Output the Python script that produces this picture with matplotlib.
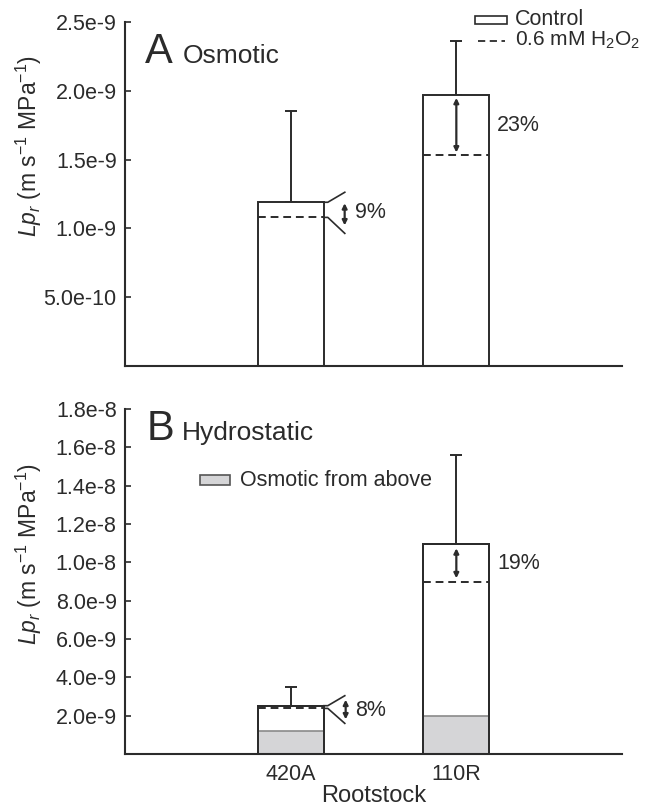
import numpy as np
import matplotlib
matplotlib.use("Agg")
import matplotlib.pyplot as plt
from matplotlib.patches import Rectangle
from matplotlib.lines import Line2D

plt.rcParams["font.family"] = ["Liberation Sans", "DejaVu Sans"]
plt.rcParams["mathtext.fontset"] = "custom"
plt.rcParams["mathtext.rm"] = "Liberation Sans"
plt.rcParams["mathtext.it"] = "Liberation Sans:italic"

# data
rootstocks = ["420A", "110R"]
osm_control = [1.19e-9, 1.97e-9]
osm_h2o2 = [1.08e-9, 1.53e-9]
osm_err = [0.66e-9, 0.39e-9]
hyd_control = [2.52e-9, 1.094e-8]
hyd_h2o2 = [2.38e-9, 8.96e-9]
hyd_err = [0.96e-9, 4.66e-9]
osm_pct = ["9%", "23%"]
hyd_pct = ["8%", "19%"]
osm_ticks = [5e-10, 1e-9, 1.5e-9, 2e-9, 2.5e-9]
osm_ticklabels = ["5.0e-10", "1.0e-9", "1.5e-9", "2.0e-9", "2.5e-9"]
hyd_ticks = [2e-9, 4e-9, 6e-9, 8e-9, 1e-8, 1.2e-8, 1.4e-8, 1.6e-8, 1.8e-8]
hyd_ticklabels = ["2.0e-9", "4.0e-9", "6.0e-9", "8.0e-9", "1.0e-8",
                  "1.2e-8", "1.4e-8", "1.6e-8", "1.8e-8"]

INK = "#2b2b2b"
GREY = "#d5d5d7"
FS = 15.5
W, H = 646, 806
x = np.arange(1, len(rootstocks) + 1)
width = 0.4

fig = plt.figure(figsize=(W / 100, H / 100), dpi=100)
ax1 = fig.add_axes([125 / W, 1 - 366 / H, 497 / W, 344 / H])
ax2 = fig.add_axes([125 / W, 1 - 754 / H, 497 / W, 345 / H])


def px(ax, dx, dy):
    """pixel offsets -> data offsets for this axes"""
    x0, x1 = ax.get_xlim()
    y0, y1 = ax.get_ylim()
    bb = ax.get_position()
    return dx * (x1 - x0) / (bb.width * W), dy * (y1 - y0) / (bb.height * H)


def funnel(ax, xc, top, low, up_px, down_px):
    edge = xc + width / 2
    s, _ = px(ax, 4, 0)
    ex, ey_up = px(ax, 21, up_px)
    _, ey_dn = px(ax, 0, down_px)
    ax.plot([edge, edge + s, edge + ex], [top, top, top + ey_up], color=INK, lw=1.2, clip_on=False)
    ax.plot([edge, edge + s, edge + ex], [low, low, low - ey_dn], color=INK, lw=1.2, clip_on=False)


def dbl_arrow(ax, xa, y_hi, y_lo):
    ax.annotate("", xy=(xa, y_lo), xytext=(xa, y_hi),
                arrowprops=dict(arrowstyle="<|-|>", color=INK, lw=1.6,
                                mutation_scale=7, shrinkA=0, shrinkB=0))


def style(ax, ymax, ticks, labels):
    ax.set_xlim(0, 3)
    ax.set_ylim(0, ymax)
    for side in ("top", "right"):
        ax.spines[side].set_visible(False)
    for side in ("left", "bottom"):
        ax.spines[side].set_linewidth(1.5)
        ax.spines[side].set_color(INK)
    ax.set_yticks(ticks)
    ax.set_yticklabels(labels)
    ax.tick_params(axis="y", direction="in", length=4, width=1.2, colors=INK,
                   labelsize=FS, pad=6)
    ax.set_ylabel(r"$\mathit{Lp}_{\mathit{r}}$ (m s$^{-1}$ MPa$^{-1}$)", fontsize=16.5, color=INK)


# ---- A: osmotic
style(ax1, 2.5e-9, osm_ticks, osm_ticklabels)
ax1.set_xticks([])
ax1.bar(x, osm_control, width, color="white", edgecolor=INK, linewidth=1.4, zorder=2)
ax1.errorbar(x, osm_control, yerr=[np.zeros(2), osm_err], fmt="none", ecolor=INK,
             elinewidth=1.4, capsize=4, capthick=1.4, zorder=1)
ax1.hlines(osm_h2o2, x - width / 2, x + width / 2, colors=INK, linestyles=(0, (4, 2.5)),
           linewidth=1.4, zorder=3)
ax1.yaxis.set_label_coords(-0.162, 0.64)

funnel(ax1, x[0], osm_control[0], osm_h2o2[0], 10, 16)
dx_small, _ = px(ax1, 54, 0)
_, d8 = px(ax1, 0, 8)
dbl_arrow(ax1, x[0] + dx_small, osm_control[0] - d8 / 8, osm_h2o2[0] - d8)
_, d3 = px(ax1, 0, 3)
dbl_arrow(ax1, x[1], osm_control[1] - d3, osm_h2o2[1] + d3)
ax1.text(x[0] + 0.388, (osm_control[0] + osm_h2o2[0]) / 2 - d3, osm_pct[0],
         fontsize=FS, color=INK, va="center")
ax1.text(x[1] + 0.245, (osm_control[1] + osm_h2o2[1]) / 2, osm_pct[1],
         fontsize=FS, color=INK, va="center")

ax1.text(0.040, 0.881, "A", transform=ax1.transAxes, fontsize=30, color=INK)
ax1.text(0.117, 0.881, "Osmotic", transform=ax1.transAxes, fontsize=19, color=INK)

# legend (top right)
ax1.add_patch(Rectangle((0.704, 0.994), 0.065, 0.024, transform=ax1.transAxes,
                        facecolor="white", edgecolor=INK, lw=1.2, clip_on=False))
ax1.text(0.785, 1.008, "Control", transform=ax1.transAxes, fontsize=FS, color=INK, va="center")
ax1.add_line(Line2D([0.710, 0.765], [0.946, 0.946], transform=ax1.transAxes, color=INK,
                    lw=1.3, linestyle=(0, (4, 2.5)), clip_on=False))
ax1.text(0.785, 0.946, r"0.6 mM H$_2$O$_2$", transform=ax1.transAxes, fontsize=15,
         color=INK, va="center")

# ---- B: hydrostatic
style(ax2, 1.8e-8, hyd_ticks, hyd_ticklabels)
ax2.set_xticks(x)
ax2.set_xticklabels(rootstocks)
ax2.tick_params(axis="x", length=0, labelsize=FS, colors=INK, pad=7)
ax2.set_xlabel("Rootstock", fontsize=17, color=INK, labelpad=0)
ax2.bar(x, hyd_control, width, color="white", edgecolor=INK, linewidth=1.4, zorder=2)
ax2.bar(x, osm_control, width, color=GREY, edgecolor="#8a8a8a", linewidth=1.2, zorder=2.5)
ax2.bar(x, hyd_control, width, color="none", edgecolor=INK, linewidth=1.4, zorder=3)
ax2.errorbar(x, hyd_control, yerr=[np.zeros(2), hyd_err], fmt="none", ecolor=INK,
             elinewidth=1.4, capsize=4, capthick=1.4, zorder=1)
ax2.hlines(hyd_h2o2, x - width / 2, x + width / 2, colors=INK, linestyles=(0, (4, 2.5)),
           linewidth=1.4, zorder=3)
ax2.yaxis.set_label_coords(-0.162, 0.58)

funnel(ax2, x[0], hyd_control[0], hyd_h2o2[0], 10, 15)
dx_small, _ = px(ax2, 55, 0)
_, e = px(ax2, 0, 1)
dbl_arrow(ax2, x[0] + dx_small, hyd_control[0] + 6 * e, hyd_h2o2[0] - 11 * e)
dbl_arrow(ax2, x[1], hyd_control[1] - 4 * e, hyd_h2o2[1] + 4 * e)
ax2.text(x[0] + 0.388, (hyd_control[0] + hyd_h2o2[0]) / 2 - 3 * e, hyd_pct[0],
         fontsize=FS, color=INK, va="center")
ax2.text(x[1] + 0.245, (hyd_control[1] + hyd_h2o2[1]) / 2, hyd_pct[1],
         fontsize=FS, color=INK, va="center")

ax2.text(0.044, 0.910, "B", transform=ax2.transAxes, fontsize=30, color=INK)
ax2.text(0.115, 0.910, "Hydrostatic", transform=ax2.transAxes, fontsize=19, color=INK)

ax2.add_patch(Rectangle((0.151, 0.780), 0.060, 0.029, transform=ax2.transAxes,
                        facecolor=GREY, edgecolor="#555555", lw=1.2))
ax2.text(0.231, 0.794, "Osmotic from above", transform=ax2.transAxes, fontsize=FS,
         color=INK, va="center")

fig.savefig("out.png", dpi=100)
